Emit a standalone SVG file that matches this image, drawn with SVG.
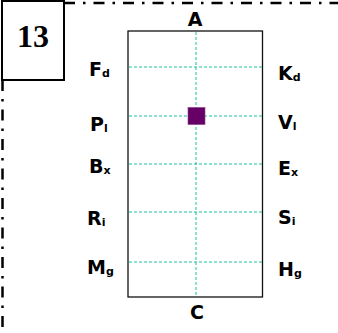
<svg xmlns="http://www.w3.org/2000/svg" width="338" height="333" viewBox="0 0 338 333">
<style>
.lbl{font-family:"DejaVu Sans","Verdana",sans-serif;font-weight:bold;font-size:19px;fill:#000}
.sub{font-size:11px}
.grid{stroke:#19c39a;stroke-width:1;stroke-dasharray:3 2;fill:none}
.border{stroke:#000;stroke-width:2.5;stroke-dasharray:11 8 2.5 8;fill:none}
</style>
<rect width="338" height="333" fill="#fff"/>
<g id="frame">
<path class="border" d="M64 3 H338"/>
<path class="border" d="M2.5 80 V333"/>
</g>
<g id="box13">
<rect x="2" y="1" width="62" height="79" fill="#fff" stroke="#000" stroke-width="2"/>
<text x="33" y="47" text-anchor="middle" font-family="'Liberation Serif','Times New Roman',serif" font-weight="bold" font-size="32">13</text>
</g>
<g id="chart">
<rect x="128" y="31" width="134.5" height="266" fill="none" stroke="#111" stroke-width="1.3"/>
<g class="grid">
<path d="M196 32 V296"/>
<path d="M129 67 H262"/>
<path d="M129 116 H262"/>
<path d="M129 164 H262"/>
<path d="M129 212 H262"/>
<path d="M129 262 H262"/>
</g>
<rect id="marker" x="188" y="107.5" width="17" height="17" fill="#660066" stroke="#8c3d8a" stroke-width="0.6"/>
</g>
<g id="labels">
<text class="lbl" x="195" y="26" text-anchor="middle">A</text>
<text class="lbl" x="197" y="319" text-anchor="middle">C</text>
<text class="lbl" x="89" y="76">F<tspan class="sub" dy="1">d</tspan></text>
<text class="lbl" x="90" y="131">P<tspan class="sub" dy="1">l</tspan></text>
<text class="lbl" x="89" y="173">B<tspan class="sub" dy="1">x</tspan></text>
<text class="lbl" x="87" y="225">R<tspan class="sub" dy="1">i</tspan></text>
<text class="lbl" x="87" y="274">M<tspan class="sub" dy="1">g</tspan></text>
<text class="lbl" x="278" y="80">K<tspan class="sub" dy="1">d</tspan></text>
<text class="lbl" x="278" y="129">V<tspan class="sub" dy="1">l</tspan></text>
<text class="lbl" x="278" y="175">E<tspan class="sub" dy="1">x</tspan></text>
<text class="lbl" x="278" y="224">S<tspan class="sub" dy="1">i</tspan></text>
<text class="lbl" x="278" y="276">H<tspan class="sub" dy="1">g</tspan></text>
</g>
</svg>
